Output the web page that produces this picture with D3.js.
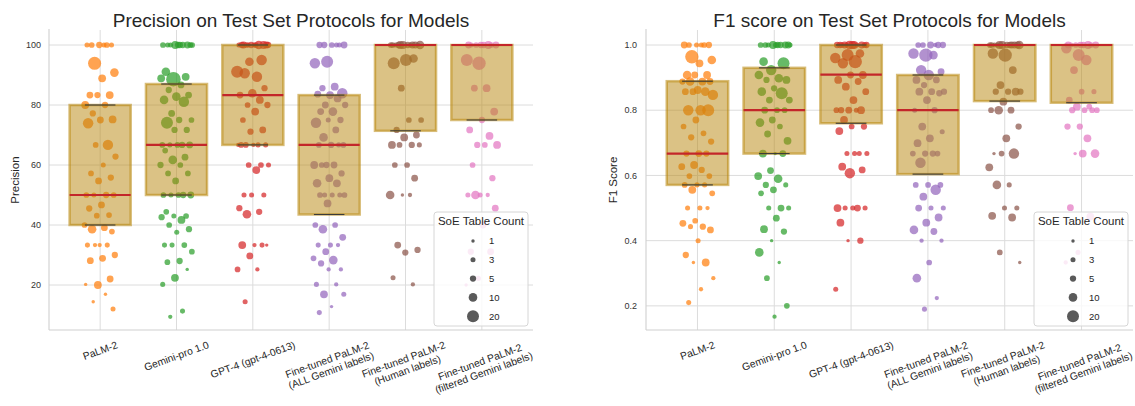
<!DOCTYPE html>
<html><head><meta charset="utf-8">
<script src="https://cdn.jsdelivr.net/npm/d3@7"></script>
<style>body{margin:0;background:#fff;} svg{font-family:"Liberation Sans",Arial,sans-serif;}</style>
</head><body><svg id="c" width="1135" height="406"></svg>
<script>
// ---------- DATA ----------
const models = ["PaLM-2","Gemini-pro 1.0","GPT-4 (gpt-4-0613)","Fine-tuned PaLM-2\n(ALL Gemini labels)","Fine-tuned PaLM-2\n(Human labels)","Fine-tuned PaLM-2\n(filtered Gemini labels)"];
const modelColors = ["#ff7f0e","#2ca02c","#d62728","#9467bd","#8c564b","#e377c2"];
const legendCounts = [1,3,5,10,20];
const precTicks = [20,40,60,80,100];
const f1Ticks = [0.2,0.4,0.6,0.8,1.0];

// [value, SoE table count]
const precPalm = [[100,3],[100,4],[100,3],[100,5],[100,3],[100,4],[93.9,24],[90.8,10],[88.9,8],[83.3,6],[83.3,8],[83.3,5],[80,8],[80,5],[77.2,5],[75.2,8],[75,6],[73.9,15],[66.7,15],[66.7,4],[62.8,5],[60,3],[57.2,4],[55.8,5],[54.7,6],[50,4],[50,5],[50,3],[50,4],[46.7,6],[45.5,5],[43.3,4],[43.1,4],[40,4],[39.1,6],[38.6,10],[37.8,4],[33.3,2],[33.3,3],[33.3,3],[33.3,2],[30,5],[28.9,6],[28.1,6],[22,6],[20,8],[20.2,1],[16.9,1],[14.4,1],[12,3]];
const precGemini = [[100,4],[100,5],[100,3],[100,6],[100,8],[100,4],[100,5],[100,3],[100,4],[100,5],[91.1,10],[89.4,8],[88.6,30],[88.9,8],[86.7,6],[85,5],[83.3,6],[82.8,10],[81.7,10],[81.1,15],[77.2,6],[75,4],[75,5],[74.1,20],[71.7,5],[71.7,5],[66.7,4],[66.7,5],[66.7,3],[66.7,6],[66.7,4],[64.8,4],[62.6,6],[61.7,10],[60,5],[60,4],[57.2,4],[57.2,4],[54.7,6],[50,4],[50,5],[50,3],[50,6],[50,4],[44.4,4],[43,4],[43,3],[42.6,5],[41.7,8],[40,4],[38.6,5],[37.6,3],[33.3,3],[33.3,4],[33.3,3],[31.1,4],[28,5],[27.6,4],[25.2,1],[22.4,8],[20.2,3],[11.3,3],[9.4,2]];
const precGpt4 = [[100,3],[100,5],[100,4],[100,6],[100,8],[100,5],[100,3],[100,10],[100,4],[100,6],[100,3],[100,5],[95,15],[94.4,10],[91.1,20],[89.4,15],[90.6,15],[85.6,5],[83.9,10],[83.3,6],[81.7,8],[80,4],[80,5],[77.8,8],[75,4],[71.7,6],[71.1,5],[66.7,2],[66.7,3],[66.7,4],[66.7,3],[66.7,2],[66.7,4],[60,4],[60,4],[60,3],[58.3,8],[50,3],[50,3],[50,3],[45.6,5],[44.4,5],[43.6,10],[33.3,1],[33.3,2],[33.3,8],[33.3,3],[29.7,6],[25.2,4],[25.2,2],[14.4,3]];
const precFtAll = [[100,3],[100,5],[100,6],[100,4],[100,5],[100,3],[94.4,20],[93.9,15],[86.1,8],[85.6,5],[83.9,15],[83.3,8],[83.6,6],[82.2,8],[80,6],[80,5],[77.8,10],[77.8,6],[75,5],[75,3],[74.1,15],[71.7,6],[69.2,10],[66.7,4],[66.7,5],[66.7,4],[66.7,3],[60,5],[60,8],[60,6],[60,4],[57.2,5],[55.6,8],[53.9,10],[53.9,8],[50,3],[50,4],[50,3],[50,4],[50,3],[47.2,8],[40,4],[40,4],[38.6,10],[35.9,6],[33.3,3],[33.3,3],[33.3,2],[31.1,6],[28.9,4],[28.3,10],[27.2,5],[25.2,2],[25.2,2],[20.2,3],[20.2,2],[16.9,8],[16.9,3],[12.8,1],[10.8,3]];
const precFtHuman = [[100,4],[100,6],[100,8],[100,10],[100,5],[100,3],[100,6],[100,8],[100,4],[100,3],[100,5],[100,2],[95,20],[93.9,20],[95.5,10],[85.6,6],[75,4],[75,4],[71.7,5],[70,6],[69.2,8],[66.7,8],[66.7,5],[66.7,4],[66.7,3],[60,4],[60,4],[55.6,6],[50,1],[50,10],[50,2],[33.3,6],[31.7,5],[30.8,5],[22.4,3],[20.2,2]];
const precFtFiltered = [[100,5],[100,6],[100,8],[100,4],[100,6],[100,5],[100,3],[100,4],[93.9,25],[95,20],[85.6,8],[85.6,6],[77.8,8],[75,5],[71.7,6],[69.7,8],[66.7,5],[66.7,8],[66.7,4],[60,4],[55.6,5],[50,3],[50,3],[50,2],[50,10],[45.6,6],[40,6],[31.1,5],[31.1,6],[22.2,3],[20,1]];

const f1Palm = [[1,3],[1,4],[1,5],[1,3],[1,6],[1,4],[0.964,25],[0.954,10],[0.944,8],[0.908,10],[0.908,8],[0.908,6],[0.888,5],[0.888,8],[0.888,10],[0.888,6],[0.862,8],[0.857,6],[0.857,10],[0.857,6],[0.847,15],[0.8,15],[0.8,15],[0.8,20],[0.77,6],[0.75,4],[0.729,4],[0.717,5],[0.704,5],[0.667,6],[0.667,5],[0.667,5],[0.632,8],[0.627,6],[0.617,5],[0.598,4],[0.598,4],[0.571,3],[0.571,4],[0.571,3],[0.556,8],[0.545,4],[0.5,3],[0.5,3],[0.5,2],[0.461,4],[0.453,6],[0.443,5],[0.443,3],[0.433,6],[0.4,3],[0.356,5],[0.333,8],[0.333,1],[0.285,2],[0.251,2],[0.21,3]];
const f1Gemini = [[1,3],[1,5],[1,4],[1,6],[1,8],[1,4],[1,5],[1,3],[1,6],[1,4],[0.949,10],[0.944,20],[0.923,15],[0.908,10],[0.898,10],[0.893,5],[0.893,8],[0.867,5],[0.857,10],[0.852,20],[0.831,6],[0.831,6],[0.8,4],[0.8,6],[0.8,4],[0.77,6],[0.762,10],[0.75,4],[0.727,6],[0.706,8],[0.667,1],[0.667,8],[0.667,6],[0.615,6],[0.598,8],[0.59,10],[0.571,5],[0.571,3],[0.556,6],[0.545,4],[0.5,6],[0.5,3],[0.5,3],[0.469,6],[0.435,8],[0.428,5],[0.4,1],[0.364,10],[0.333,1],[0.285,4],[0.2,4],[0.167,2]];
const f1Gpt4 = [[1,3],[1,5],[1,8],[1,4],[1,6],[1,10],[1,5],[1,3],[1,6],[1,4],[1,8],[1,5],[0.974,10],[0.969,20],[0.96,15],[0.949,25],[0.944,15],[0.908,8],[0.908,6],[0.893,8],[0.888,6],[0.872,8],[0.857,6],[0.831,8],[0.8,5],[0.8,8],[0.8,6],[0.8,4],[0.8,3],[0.77,8],[0.75,5],[0.75,4],[0.736,8],[0.667,3],[0.667,3],[0.667,3],[0.667,3],[0.627,8],[0.617,6],[0.607,15],[0.5,8],[0.5,6],[0.5,3],[0.5,3],[0.5,3],[0.455,8],[0.4,5],[0.4,1],[0.251,3]];
const f1FtAll = [[1,2],[1,4],[1,5],[1,6],[1,4],[1,5],[0.969,25],[0.974,15],[0.969,10],[0.923,15],[0.918,6],[0.908,15],[0.893,8],[0.893,6],[0.877,5],[0.857,5],[0.857,6],[0.857,8],[0.852,5],[0.831,8],[0.8,3],[0.8,5],[0.75,8],[0.734,3],[0.714,8],[0.699,8],[0.667,4],[0.667,5],[0.667,4],[0.667,5],[0.639,15],[0.571,4],[0.571,4],[0.571,4],[0.556,15],[0.535,8],[0.5,3],[0.5,3],[0.5,6],[0.471,8],[0.455,8],[0.433,10],[0.428,6],[0.4,2],[0.4,2],[0.333,4],[0.285,10],[0.224,2],[0.19,3]];
const f1FtHuman = [[1,4],[1,6],[1,8],[1,10],[1,5],[1,3],[1,6],[1,8],[1,4],[1,5],[1,3],[1,6],[0.969,25],[0.974,15],[0.923,8],[0.877,8],[0.857,5],[0.857,5],[0.857,5],[0.857,8],[0.826,8],[0.8,4],[0.8,6],[0.8,10],[0.75,5],[0.714,8],[0.667,1],[0.667,15],[0.667,4],[0.625,8],[0.571,3],[0.571,10],[0.5,3],[0.5,3],[0.476,8],[0.471,8],[0.364,4],[0.333,1]];
const f1FtFiltered = [[1,5],[1,6],[1,8],[1,4],[1,6],[1,5],[1,3],[1,4],[0.969,20],[0.99,15],[0.954,15],[0.923,8],[0.857,3],[0.857,4],[0.831,6],[0.811,4],[0.811,8],[0.8,4],[0.8,4],[0.8,5],[0.8,4],[0.75,5],[0.75,5],[0.714,8],[0.667,1],[0.667,10],[0.667,8],[0.501,6],[0.474,8],[0.364,3],[0.333,2]];

// box statistics (Q1, median, Q3)
const precQ1 = [40, 50, 66.7, 43.5, 71.4, 75];
const precMedian = [50, 66.7, 83.3, 66.7, 100, 100];
const precQ3 = [80, 87, 100, 83.3, 100, 100];
const f1Q1 = [0.571, 0.667, 0.76, 0.604, 0.828, 0.823];
const f1Median = [0.667, 0.8, 0.909, 0.8, 1.0, 1.0];
const f1Q3 = [0.889, 0.93, 1.0, 0.908, 1.0, 1.0];

// ---------- DRAW ----------
const svg = d3.select("#c");
const FONT = '"Liberation Sans",Arial,sans-serif';
const sizeArea = d3.scaleLinear().domain([1,20]).range([2.9,36]);
const rOf = c => Math.sqrt(sizeArea(c));

const panels = [
  {x0:49, x1:533, y0:30, y1:330, domain:[5,105], ticks:precTicks, fmt:d=>String(d),
   title:"Precision on Test Set Protocols for Models", ylabel:"Precision", ylabelX:15, tickX:41,
   series:[precPalm,precGemini,precGpt4,precFtAll,precFtHuman,precFtFiltered], q1:precQ1, med:precMedian, q3:precQ3},
  {x0:646, x1:1133, y0:30, y1:330, domain:[0.126,1.046], ticks:f1Ticks, fmt:d3.format(".1f"),
   title:"F1 score on Test Set Protocols for Models", ylabel:"F1 Score", ylabelX:613, tickX:637,
   series:[f1Palm,f1Gemini,f1Gpt4,f1FtAll,f1FtHuman,f1FtFiltered], q1:f1Q1, med:f1Median, q3:f1Q3}
];

const XFS = 10.3;
const meas = svg.append("text").style("font-family",FONT).style("font-size",XFS+"px").attr("opacity",0);
function textW(s){ meas.text(s); return meas.node().getComputedTextLength(); }

panels.forEach((p, pi) => {
  const g = svg.append("g");
  const x = d3.scaleLinear().domain([-0.67, 5.67]).range([p.x0, p.x1]);
  const y = d3.scaleLinear().domain(p.domain).range([p.y1, p.y0]);
  const bw = x(0.4) - x(0);   // half box width
  const cw = x(0.2) - x(0);   // half cap width

  // grid
  g.selectAll(".hg").data(p.ticks).join("line")
    .attr("x1",p.x0).attr("x2",p.x1).attr("y1",d=>y(d)).attr("y2",d=>y(d))
    .attr("stroke","#dcdcdc").attr("stroke-width",1);
  g.selectAll(".vg").data(models).join("line")
    .attr("x1",(d,i)=>x(i)).attr("x2",(d,i)=>x(i)).attr("y1",p.y0).attr("y2",p.y1)
    .attr("stroke","#dcdcdc").attr("stroke-width",1);

  // points (deterministic jitter)
  p.series.forEach((arr, k) => {
    g.append("g").selectAll("circle").data(arr).join("circle")
      .attr("cx",(d,i)=>x(k + (((i+1)*0.6180339887 + k*0.37) % 1 - 0.5) * 0.42))
      .attr("cy",d=>y(d[0]))
      .attr("r",d=>rOf(d[1]))
      .attr("fill",modelColors[k]).attr("fill-opacity",0.72);
  });

  // boxes
  models.forEach((m,k) => {
    g.append("rect")
      .attr("x",x(k)-bw).attr("width",2*bw)
      .attr("y",y(p.q3[k])).attr("height",y(p.q1[k])-y(p.q3[k]))
      .attr("fill","#b8860b").attr("fill-opacity",0.5)
      .attr("stroke","#b8860b").attr("stroke-opacity",0.55).attr("stroke-width",2.5);
    [p.q1[k], p.q3[k]].forEach(v => {
      g.append("line").attr("x1",x(k)-cw).attr("x2",x(k)+cw).attr("y1",y(v)).attr("y2",y(v))
        .attr("stroke","#3a3a3a").attr("stroke-width",1.1);
    });
    g.append("line").attr("x1",x(k)-bw).attr("x2",x(k)+bw).attr("y1",y(p.med[k])).attr("y2",y(p.med[k]))
      .attr("stroke","#c3262a").attr("stroke-width",2.2);
  });

  // spines
  g.append("line").attr("x1",p.x0).attr("x2",p.x0).attr("y1",p.y0-1).attr("y2",p.y1).attr("stroke","#cfcfcf").attr("stroke-width",1.1);
  g.append("line").attr("x1",p.x0).attr("x2",p.x1).attr("y1",p.y1).attr("y2",p.y1).attr("stroke","#cfcfcf").attr("stroke-width",1.1);

  // y tick labels
  g.selectAll(".yt").data(p.ticks).join("text")
    .attr("x",p.tickX).attr("y",d=>y(d)).attr("dy","0.35em")
    .attr("text-anchor","end").style("font-size","9px").attr("fill","#333")
    .text(p.fmt);

  // y label
  g.append("text").attr("transform",`translate(${p.ylabelX},${(p.y0+p.y1)/2}) rotate(-90)`)
    .attr("text-anchor","middle").attr("dy","0.35em").style("font-size","11.5px").attr("fill","#262626")
    .text(p.ylabel);

  // title
  g.append("text").attr("x",(p.x0+p.x1)/2).attr("y",27).attr("text-anchor","middle")
    .style("font-size","19px").attr("fill","#262626").text(p.title);

  // x tick labels rotated 20deg, bbox centred on tick
  const ang = 20*Math.PI/180, lh = XFS*1.1;
  models.forEach((m,k) => {
    const lines = m.split("\n");
    const L = d3.max(lines, textW);
    const H = L*Math.sin(ang) + lines.length*lh*Math.cos(ang);
    const cy = p.y1 + 9 + H/2;
    const t = g.append("text").attr("transform",`translate(${x(k)},${cy}) rotate(-20)`)
      .attr("text-anchor","middle").style("font-size",XFS+"px").attr("fill","#262626");
    lines.forEach((ln,li) => {
      t.append("tspan").attr("x",0).attr("y",(li-(lines.length-1)/2)*lh).attr("dy","0.35em").text(ln);
    });
  });

  // legend
  const lx = p.x1 - 99, ly = p.y1 - 118;
  const lg = g.append("g").attr("transform",`translate(${lx},${ly})`);
  lg.append("rect").attr("width",94).attr("height",114).attr("rx",3)
    .attr("fill","#fff").attr("fill-opacity",0.8).attr("stroke","#d6d6d6").attr("stroke-width",1);
  lg.append("text").attr("x",47).attr("y",13).attr("text-anchor","middle")
    .style("font-size","11.5px").attr("fill","#262626").text("SoE Table Count");
  legendCounts.forEach((c,i) => {
    const yy = 29 + i*18.8;
    lg.append("circle").attr("cx",39).attr("cy",yy).attr("r",rOf(c)).attr("fill","#3d3d3d").attr("fill-opacity",0.85);
    lg.append("text").attr("x",55).attr("y",yy).attr("dy","0.35em").style("font-size","9.5px").attr("fill","#262626").text(c);
  });
});
meas.remove();
</script></body></html>
